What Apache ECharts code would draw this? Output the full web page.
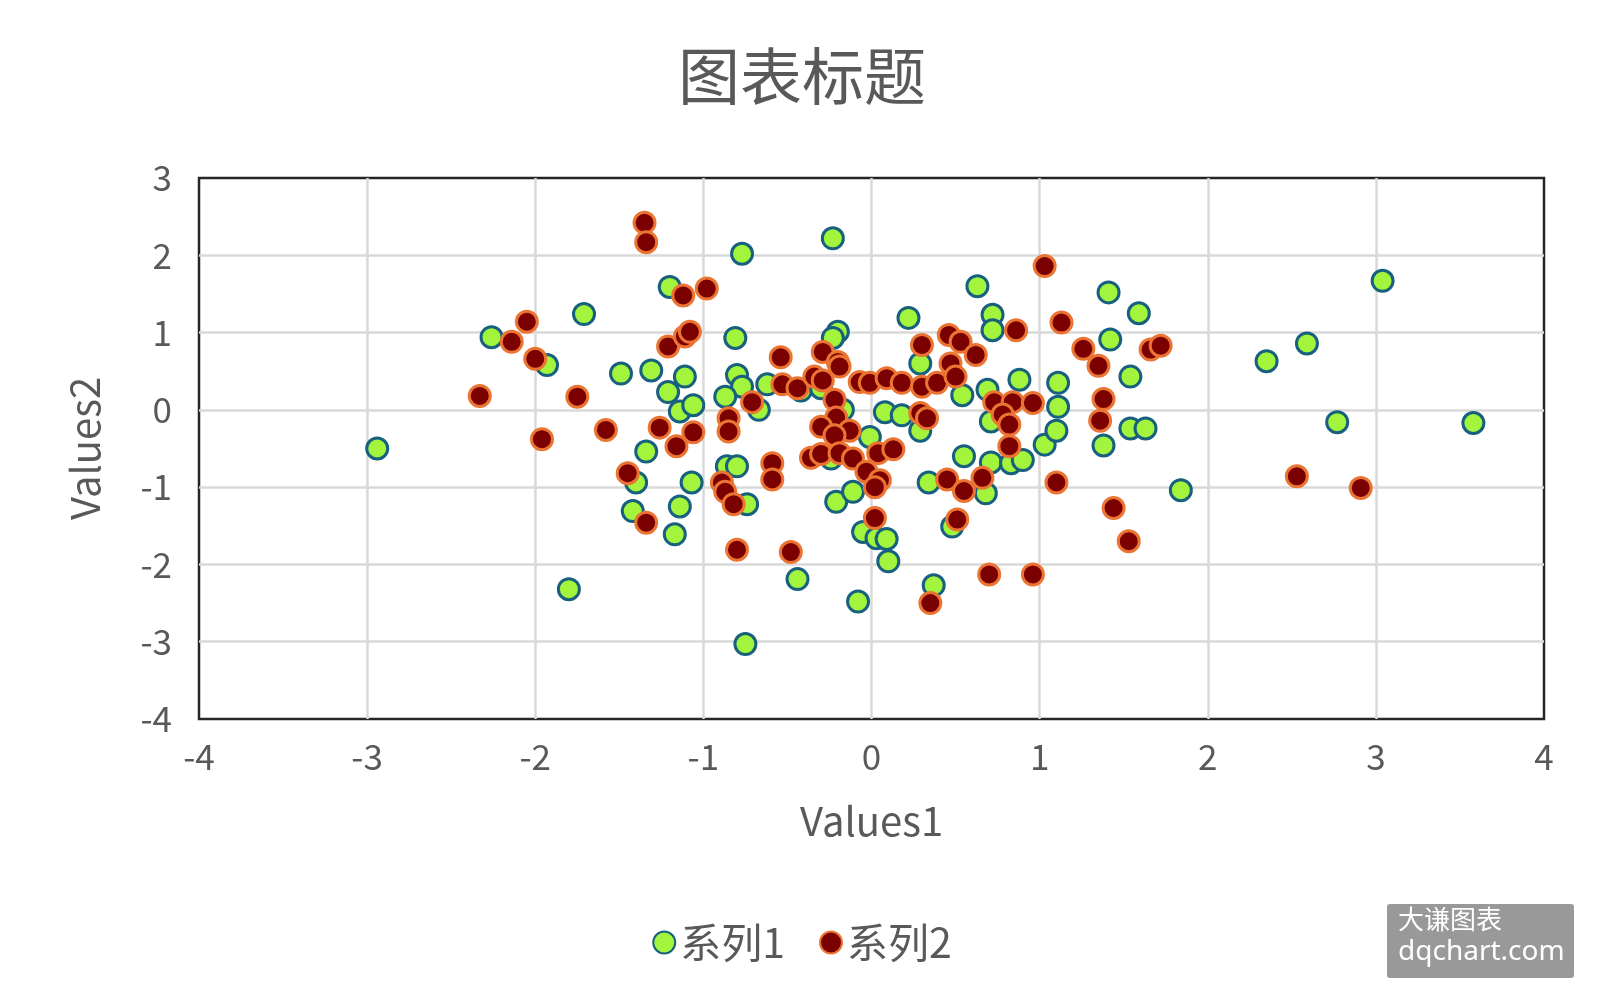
<!DOCTYPE html>
<html><head><meta charset="utf-8">
<script src="https://cdn.jsdelivr.net/npm/echarts@6/dist/echarts.min.js"></script>
<style>html,body{margin:0;padding:0;background:#fff}#c{width:1604px;height:1008px}</style>
</head><body><div id="c"></div>
<script>
const titleText = '图表标题';
const xName = 'Values1';
const yName = 'Values2';
const seriesNames = ['系列1', '系列2'];
const xTicks = [-4, -3, -2, -1, 0, 1, 2, 3, 4];
const yTicks = [-4, -3, -2, -1, 0, 1, 2, 3];

const series1 = [
  [-2.94,-0.50],[-2.26,0.94],[-1.93,0.58],[-1.71,1.24],[-1.80,-2.32],[-1.49,0.47],
  [-1.31,0.51],[-1.20,1.59],[-1.21,0.23],[-1.11,0.43],[-1.14,-0.02],[-1.06,0.06],
  [-1.34,-0.54],[-1.40,-0.94],[-1.42,-1.31],[-1.07,-0.94],[-1.14,-1.25],[-1.17,-1.61],
  [-0.77,2.02],[-0.23,2.22],[-0.81,0.93],[-0.80,0.45],[-0.77,0.30],[-0.87,0.17],
  [-0.62,0.33],[-0.67,0.00],[-0.42,0.25],[-0.86,-0.73],[-0.80,-0.73],[-0.74,-1.22],
  [-0.44,-2.19],[-0.75,-3.03],[-0.08,-2.48],[-0.20,1.01],[-0.23,0.93],[-0.21,-1.19],
  [-0.11,-1.06],[-0.05,-1.58],[0.03,-1.66],[0.09,-1.67],[0.10,-1.96],[-0.01,-0.35],
  [-0.24,-0.63],[-0.30,0.28],[-0.17,0.00],
  [0.22,1.19],[0.63,1.60],[0.72,1.23],[0.72,1.03],[0.29,0.60],[0.54,0.19],[0.69,0.26],
  [0.88,0.39],[0.08,-0.03],[0.18,-0.07],[0.29,-0.27],[0.34,-0.94],[0.55,-0.60],
  [0.68,-1.08],[0.71,-0.68],[0.83,-0.69],[0.90,-0.65],[0.71,-0.15],[0.48,-1.51],
  [0.37,-2.27],[1.03,-0.45],[1.10,-0.27],[1.11,0.35],[1.11,0.04],[1.41,1.52],
  [1.59,1.25],[1.42,0.91],[1.54,0.43],[1.54,-0.24],[1.63,-0.24],[1.38,-0.46],
  [1.84,-1.04],[2.35,0.63],[2.59,0.86],[3.04,1.67],[2.77,-0.16],[3.58,-0.17]
];

const series2 = [
  [-2.33,0.18],[-2.05,1.14],[-2.14,0.88],[-2.00,0.66],[-1.96,-0.38],[-1.75,0.17],
  [-1.58,-0.26],[-1.45,-0.82],[-1.34,-1.46],[-1.35,2.42],[-1.34,2.17],[-1.12,1.48],
  [-0.98,1.57],[-1.21,0.82],[-1.11,0.95],[-1.08,1.01],[-1.26,-0.23],[-1.06,-0.29],
  [-1.16,-0.47],[-0.71,0.10],[-0.85,-0.11],[-0.85,-0.28],[-0.54,0.68],[-0.53,0.33],
  [-0.44,0.28],[-0.89,-0.94],[-0.87,-1.06],[-0.82,-1.22],[-0.59,-0.69],[-0.59,-0.90],
  [-0.80,-1.81],[-0.48,-1.84],[-0.29,0.75],[-0.20,0.62],[-0.19,0.56],[-0.34,0.43],
  [-0.29,0.38],[-0.22,0.13],[-0.21,-0.10],[-0.30,-0.22],[-0.13,-0.27],[-0.22,-0.33],
  [-0.36,-0.62],[-0.30,-0.57],[-0.19,-0.56],[-0.11,-0.63],[0.04,-0.56],[0.13,-0.51],
  [-0.03,-0.80],[0.05,-0.91],[0.02,-1.00],[0.02,-1.40],[-0.07,0.36],[-0.01,0.35],
  [0.09,0.41],[0.18,0.35],[0.30,0.30],[0.39,0.35],[0.30,0.84],[0.46,0.97],
  [0.53,0.88],[0.62,0.71],[0.47,0.60],[0.50,0.43],[0.29,-0.04],[0.33,-0.11],
  [0.73,0.10],[0.84,0.10],[0.96,0.09],[0.78,-0.06],[0.82,-0.19],[0.82,-0.47],
  [0.86,1.03],[1.03,1.86],[1.13,1.13],[1.26,0.79],[1.35,0.57],[1.66,0.78],
  [1.72,0.83],[1.38,0.14],[1.36,-0.14],[0.45,-0.90],[0.55,-1.05],[0.66,-0.88],
  [1.10,-0.94],[0.51,-1.42],[0.35,-2.50],[0.70,-2.13],[0.96,-2.13],[1.44,-1.27],
  [1.53,-1.70],[2.53,-0.86],[2.91,-1.01]
];

const FONT = '"Noto Sans CJK SC","Noto Sans",sans-serif';
const G = {left: 199, right: 60, top: 178, bottom: 289};
const chart = echarts.init(document.getElementById('c'), null, {renderer: 'canvas'});
chart.setOption({
  backgroundColor: '#fff',
  animation: false,
  title: {
    text: titleText, left: 'center', top: 40,
    textStyle: {fontFamily: FONT, fontSize: 62, fontWeight: 'normal', color: '#595959'}
  },
  legend: {
    bottom: 40, left: 'center',
    itemWidth: 22, itemHeight: 22, itemGap: 34,
    icon: 'circle',
    textStyle: {fontFamily: FONT, fontSize: 41, color: '#595959'},
    data: seriesNames
  },
  grid: {
    left: G.left, right: G.right, top: G.top, bottom: G.bottom,
    show: false
  },
  xAxis: {
    type: 'value', min: xTicks[0], max: xTicks[xTicks.length-1], interval: 1,
    name: xName, nameLocation: 'middle', nameGap: 82,
    nameTextStyle: {fontFamily: FONT, fontSize: 40, color: '#595959'},
    axisLine: {show: false}, axisTick: {show: false},
    axisLabel: {fontFamily: FONT, fontSize: 35, color: '#595959', margin: 20},
    splitLine: {show: true, showMinLine: false, showMaxLine: false, lineStyle: {color: '#D9D9D9', width: 2.5}}
  },
  yAxis: {
    type: 'value', min: yTicks[0], max: yTicks[yTicks.length-1], interval: 1,
    name: yName, nameLocation: 'middle', nameGap: 94, nameRotate: 90,
    nameTextStyle: {fontFamily: FONT, fontSize: 40, color: '#595959'},
    axisLine: {show: false}, axisTick: {show: false},
    axisLabel: {fontFamily: FONT, fontSize: 35, color: '#595959', margin: 27},
    splitLine: {show: true, showMinLine: false, showMaxLine: false, lineStyle: {color: '#D9D9D9', width: 2.5}}
  },
  series: [
    {
      name: seriesNames[0], type: 'scatter', data: series1,
      symbol: 'circle', symbolSize: 21,
      itemStyle: {color: '#A2F43C', borderColor: '#17607E', borderWidth: 3, opacity: 1}
    },
    {
      name: seriesNames[1], type: 'scatter', data: series2,
      symbol: 'circle', symbolSize: 21,
      itemStyle: {color: '#7B0000', borderColor: '#EC7433', borderWidth: 3, opacity: 1}
    }
  ],
  graphic: [
    {
      type: 'rect', z: 0,
      shape: {x: G.left, y: G.top, width: 1604 - G.left - G.right, height: 1008 - G.top - G.bottom},
      style: {fill: 'none', stroke: '#262626', lineWidth: 2.5}
    },
    {
      type: 'group', left: 1387, top: 904,
      children: [
        {type: 'rect', shape: {x: 0, y: 0, width: 187, height: 74, r: 3}, style: {fill: '#999999'}},
        {type: 'text', left: 11, top: 2, style: {text: '大谦图表', fill: '#fff', font: '26px "Noto Sans CJK SC"'}},
        {type: 'text', left: 11, top: 34, style: {text: 'dqchart.com', fill: '#fff', font: '28px "Noto Sans","Noto Sans CJK SC"'}}
      ]
    }
  ]
});
</script></body></html>
